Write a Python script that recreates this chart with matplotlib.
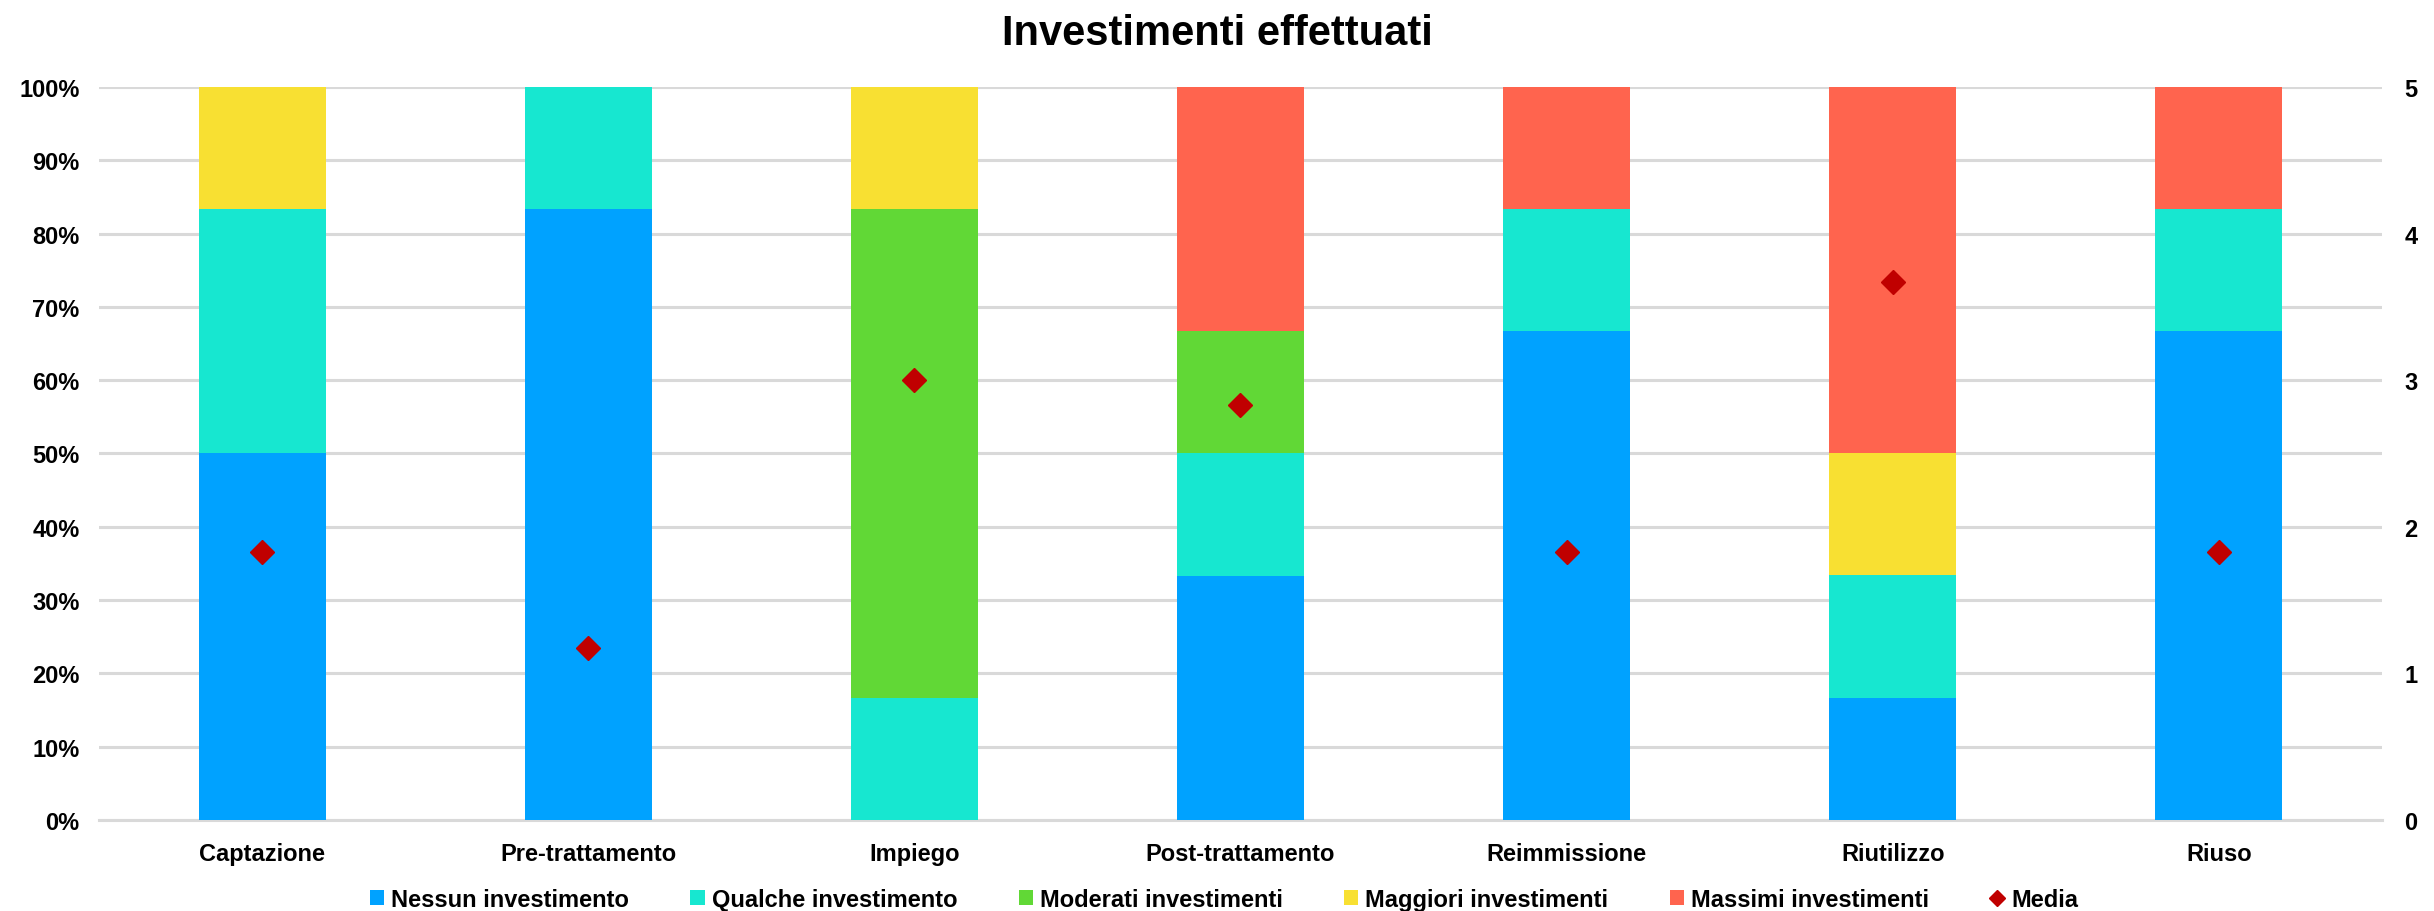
import numpy as np
import matplotlib
matplotlib.use('Agg')
import matplotlib.pyplot as plt
from matplotlib.ticker import PercentFormatter

plt.rcParams['font.family'] = ['Liberation Sans', 'DejaVu Sans']
plt.rcParams['font.weight'] = 'bold'

# dati
fasi = ['Captazione', 'Pre-trattamento', 'Impiego', 'Post-trattamento',
        'Reimmissione', 'Riutilizzo', 'Riuso']
nessun = [50.0, 83.3, 0.0, 33.3, 66.7, 16.7, 66.7]
qualche = [33.3, 16.7, 16.7, 16.7, 16.7, 16.7, 16.7]
moderati = [0.0, 0.0, 66.7, 16.7, 0.0, 0.0, 0.0]
maggiori = [16.7, 0.0, 16.7, 0.0, 0.0, 16.7, 0.0]
massimi = [0.0, 0.0, 0.0, 33.3, 16.7, 50.0, 16.7]
media = [1.83, 1.17, 3.0, 2.83, 1.83, 3.67, 1.83]

serie = [
    ('Nessun investimento', nessun, '#00A2FF'),
    ('Qualche investimento', qualche, '#17E7D0'),
    ('Moderati investimenti', moderati, '#61D836'),
    ('Maggiori investimenti', maggiori, '#F8E032'),
    ('Massimi investimenti', massimi, '#FF644E'),
]

fig = plt.figure(figsize=(24.34, 9.12), dpi=100)
ax = fig.add_axes([0.0407, 0.0998, 0.9379, 0.8037])

x = np.arange(len(fasi))
bottom = np.zeros(len(fasi))
for nome, vals, col in serie:
    ax.bar(x, vals, 0.39, bottom=bottom, color=col, label=nome, zorder=3)
    bottom += np.array(vals)

ax.set_xlim(-0.5, len(fasi) - 0.5)
ax.set_ylim(0, 100)
ax.set_yticks(np.arange(0, 101, 10))
ax.yaxis.set_major_formatter(PercentFormatter(decimals=0))
ax.set_xticks(x)
ax.set_xticklabels(fasi)
ax.grid(axis='y', color='#D9D9D9', linewidth=2.2, zorder=0)
ax.set_axisbelow(True)
for s in ['top', 'right', 'left']:
    ax.spines[s].set_visible(False)
ax.spines['bottom'].set_color('#D9D9D9')
ax.spines['bottom'].set_linewidth(2.2)
ax.tick_params(axis='both', length=0, labelsize=17, pad=14)
ax.tick_params(axis='x', pad=16)

ax2 = ax.twinx()
ax2.plot(x, media, linestyle='none', marker='D', markersize=12,
         color='#C00000', label='Media', zorder=5)
ax2.set_ylim(0, 5)
ax2.set_yticks(range(0, 6))
for s in ax2.spines.values():
    s.set_visible(False)
ax2.tick_params(axis='y', length=0, labelsize=17, pad=16)

fig.suptitle('Investimenti effettuati', fontsize=30, fontweight='bold', y=0.985)

h1, l1 = ax.get_legend_handles_labels()
h2, l2 = ax2.get_legend_handles_labels()
leg = fig.legend(h1 + h2, l1 + l2, loc='center', bbox_to_anchor=(0.503, 0.013),
                 ncol=6, frameon=False, fontsize=17, handlelength=0.6,
                 handleheight=0.6, handletextpad=0.3, columnspacing=2.6)
leg.legend_handles[-1].set_markersize(8)

fig.savefig('out.png', dpi=100)
